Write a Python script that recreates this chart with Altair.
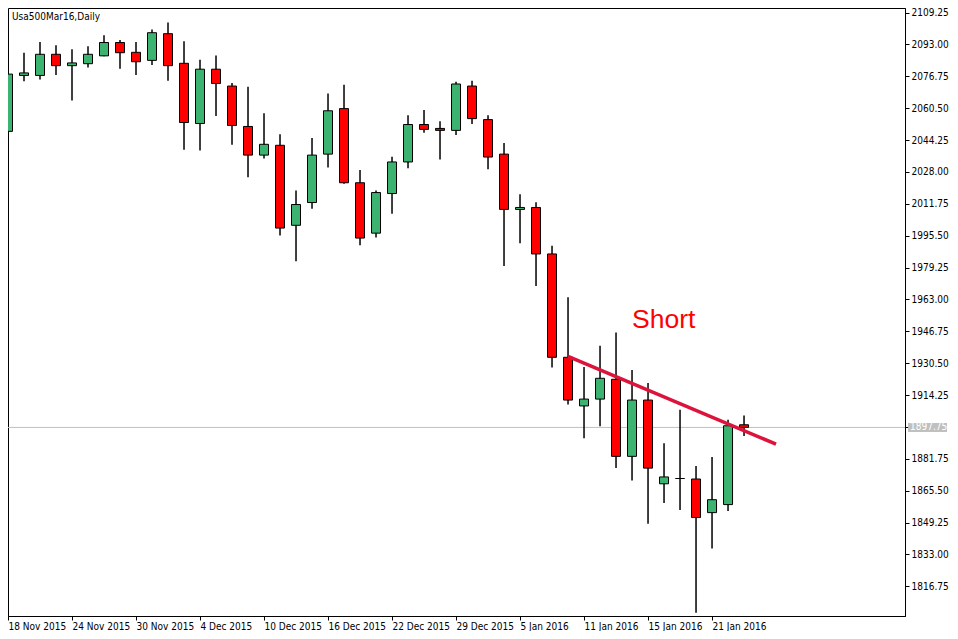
import altair as alt
import pandas as pd

# ---- data (Usa500Mar16, Daily) ----
opens = [2048.7, 2077.2, 2077.2, 2088.0, 2082.2, 2083.2, 2087.2, 2094.0, 2089.0, 2084.9,
         2098.5, 2083.4, 2052.7, 2080.4, 2071.8, 2051.2, 2036.6, 2041.6, 2000.8, 2012.4,
         2037.1, 2060.3, 2022.5, 1996.8, 2017.0, 2033.1, 2052.2, 2050.2, 2049.2, 2071.8,
         2054.7, 2037.1, 2008.9, 2009.9, 1986.2, 1933.5, 1908.7, 1912.2, 1922.3, 1883.0,
         1911.7, 1869.0, 1871.7, 1871.45, 1854.3, 1858.4, 1899.1]
highs = [2079.5, 2088.8, 2094.3, 2092.6, 2090.6, 2092.1, 2097.7, 2095.3, 2094.3, 2100.7,
         2104.2, 2094.6, 2085.2, 2087.4, 2073.4, 2071.5, 2057.9, 2047.2, 2018.6, 2045.3,
         2068.0, 2072.5, 2029.0, 2018.5, 2035.8, 2056.9, 2059.6, 2053.9, 2074.0, 2074.5,
         2056.9, 2042.8, 2016.6, 2012.6, 1990.4, 1964.1, 1928.5, 1939.4, 1946.1, 1927.0,
         1920.4, 1889.7, 1906.8, 1878.1, 1882.7, 1901.6, 1903.8]
lows = [2047.0, 2074.2, 2075.2, 2077.5, 2064.4, 2081.2, 2087.0, 2080.6, 2077.5, 2082.6,
        2074.5, 2039.3, 2038.9, 2056.5, 2041.9, 2025.3, 2034.9, 1995.6, 1982.5, 2009.2,
        2030.3, 2022.0, 1990.6, 1994.6, 2006.7, 2029.9, 2048.0, 2034.4, 2046.8, 2052.5,
        2029.4, 1980.0, 1991.6, 1969.9, 1928.3, 1909.5, 1892.2, 1898.4, 1877.1, 1870.7,
        1848.6, 1859.2, 1855.6, 1803.3, 1836.0, 1855.1, 1893.4]
closes = [2077.9, 2078.5, 2088.0, 2082.2, 2083.6, 2088.0, 2094.0, 2088.8, 2084.2, 2099.0,
          2082.2, 2053.2, 2080.4, 2073.1, 2051.7, 2036.6, 2042.1, 1999.4, 2011.4, 2036.6,
          2059.2, 2022.5, 1994.3, 2017.5, 2033.1, 2052.2, 2049.7, 2049.2, 2072.85, 2055.2,
          2035.6, 2008.9, 2009.9, 1986.2, 1933.5, 1911.7, 1912.2, 1922.8, 1883.0, 1911.7,
          1877.0, 1872.5, 1871.7, 1851.8, 1860.9, 1898.6, 1897.75]

date_label_bars = [0, 4, 8, 12, 16, 20, 24, 28, 32, 36, 40, 44]
date_labels = ["18 Nov 2015", "24 Nov 2015", "30 Nov 2015", "4 Dec 2015", "10 Dec 2015",
               "16 Dec 2015", "22 Dec 2015", "29 Dec 2015", "5 Jan 2016", "11 Jan 2016",
               "15 Jan 2016", "21 Jan 2016"]

price_ticks = [2109.25, 2093.00, 2076.75, 2060.50, 2044.25, 2028.00, 2011.75, 1995.50,
               1979.25, 1963.00, 1946.75, 1930.50, 1914.25, 1897.75, 1881.75, 1865.50,
               1849.25, 1833.00, 1816.75]
last_price = [1897.75]

trend_bars = [35, 48]
trend_prices = [1934.0, 1889.2]

note_bar = [39.0]
note_price = [1948.6]
note_text = ["Short"]

symbol_title = "Usa500Mar16,Daily"

# ---- tables ----
def direction(o, c):
    if c > o:
        return "up"
    if c < o:
        return "down"
    return "flat"

candles = pd.DataFrame({
    "bar": list(range(len(opens))),
    "open": opens, "high": highs, "low": lows, "close": closes,
})
candles["dir"] = [direction(o, c) for o, c in zip(opens, closes)]

price_df = pd.DataFrame({"p": last_price, "label": [f"{v:.2f}" for v in last_price]})
trend_df = pd.DataFrame({"bar": trend_bars, "price": trend_prices})
note_df = pd.DataFrame({"bar": note_bar, "price": note_price, "text": note_text})
title_df = pd.DataFrame({"t": [symbol_title]})

W, H = 897, 608
FONT = "DejaVu Sans Condensed, Liberation Sans, Arial, sans-serif"

xscale = alt.Scale(domain=[0.0, 56.06], nice=False, zero=False, padding=0)
yscale = alt.Scale(domain=[1801.6, 2111.6], nice=False, zero=False, padding=0)

label_expr = "[" + ",".join(f"'{s}'" for s in date_labels) + "]" + "[indexof(" + \
    "[" + ",".join(str(b) for b in date_label_bars) + "], datum.value)]"

x_axis = alt.Axis(values=date_label_bars, labelExpr=label_expr, labelAlign="left",
                  labelPadding=1, tickSize=4, grid=False, title=None,
                  labelFlush=False, labelOverlap=False, labelBound=False)
y_axis = alt.Axis(values=price_ticks, orient="right", grid=False, title=None,
                  tickSize=4, labelPadding=2, labelOverlap=False, labelFlush=False,
                  labelExpr="datum.value == %s ? '' : format(datum.value, '.2f')" % last_price[0])

base = alt.Chart(candles)

wicks = base.mark_rule(color="black", strokeWidth=1.5).encode(
    x=alt.X("bar:Q", scale=xscale, axis=x_axis),
    y=alt.Y("low:Q", scale=yscale, axis=y_axis),
    y2="high:Q",
)

bodies = base.mark_bar(width=9, stroke="black", strokeWidth=1).encode(
    x=alt.X("bar:Q", scale=xscale, axis=x_axis),
    y=alt.Y("open:Q", scale=yscale, axis=y_axis),
    y2="close:Q",
    fill=alt.Fill("dir:N", scale=alt.Scale(domain=["up", "down", "flat"],
                                           range=["#3CB371", "#FF0000", "#000000"]),
                  legend=None),
)

price_line = alt.Chart(price_df).mark_rule(color="#C0C0C0", strokeWidth=1).encode(
    y=alt.Y("p:Q", scale=yscale, axis=y_axis),
)

price_tag = alt.Chart(price_df).mark_rule(color="#C0C0C0", strokeWidth=9, strokeCap="butt").encode(
    x=alt.value(W + 3), x2=alt.value(W + 42),
    y=alt.Y("p:Q", scale=yscale, axis=y_axis),
)

price_tag_text = alt.Chart(price_df).mark_text(
    align="left", baseline="middle", color="white", font=FONT, fontSize=10
).encode(
    x=alt.value(W + 5),
    y=alt.Y("p:Q", scale=yscale, axis=y_axis),
    text="label:N",
)

trend = alt.Chart(trend_df).mark_line(color="#DC143C", strokeWidth=3.5).encode(
    x=alt.X("bar:Q", scale=xscale, axis=x_axis),
    y=alt.Y("price:Q", scale=yscale, axis=y_axis),
)

note = alt.Chart(note_df).mark_text(
    align="left", baseline="alphabetic", color="#FF0000",
    font="Liberation Sans, Arial, sans-serif", fontSize=26.5
).encode(
    x=alt.X("bar:Q", scale=xscale, axis=x_axis),
    y=alt.Y("price:Q", scale=yscale, axis=y_axis),
    text="text:N",
)

title = alt.Chart(title_df).mark_text(
    align="left", baseline="top", color="black", font=FONT, fontSize=10
).encode(
    x=alt.value(4), y=alt.value(4), text="t:N",
)

chart = alt.layer(
    price_line, wicks, bodies, trend, note, title, price_tag, price_tag_text
).properties(
    width=W, height=H,
    autosize=alt.AutoSizeParams(type="none"),
    padding={"left": 0, "top": 0, "right": 45, "bottom": 15},
    background="white",
).configure_view(
    stroke="black", strokeWidth=1
).configure_axis(
    domainColor="black", tickColor="black", labelColor="black",
    labelFont=FONT, labelFontSize=10, domainWidth=1, tickWidth=1,
    labelOverlap=False,
)

chart.save("out.html", embed_options={"renderer": "svg", "actions": False})
